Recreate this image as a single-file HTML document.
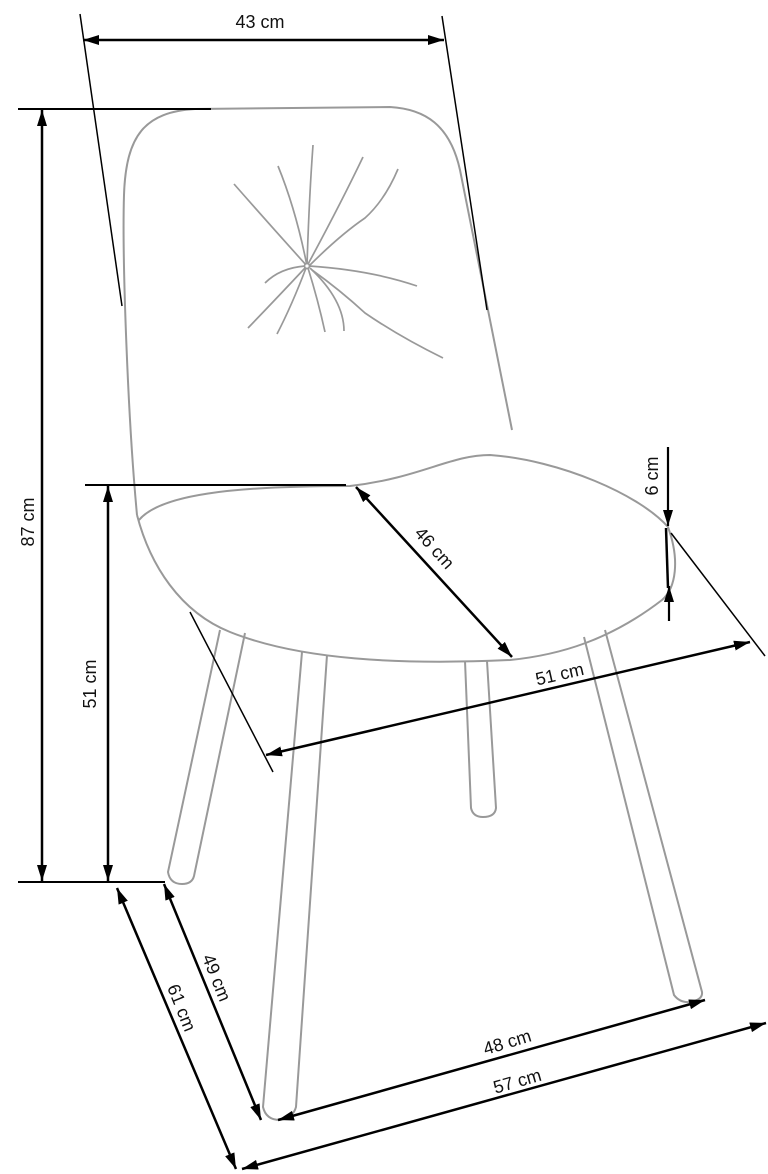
<!DOCTYPE html>
<html><head><meta charset="utf-8"><style>
html,body{margin:0;padding:0;background:#fff;}
svg{display:block;}
text{font-family:"Liberation Sans",sans-serif;font-size:18px;fill:#111;}
</style></head><body>
<svg width="768" height="1174" viewBox="0 0 768 1174" xmlns="http://www.w3.org/2000/svg">
<defs>
<marker id="a" viewBox="0 0 16 10" refX="16" refY="5" markerWidth="16" markerHeight="10" markerUnits="userSpaceOnUse" orient="auto-start-reverse">
<path d="M0,0 L16,5 L0,10 Z" fill="#000"/></marker>
</defs>
<g fill="none" stroke="#999" stroke-width="2">
<path d="M137,515 C128,420 122,260 124,195 C126,135 145,112 195,109 L390,107 C425,109 450,125 460,170 L512,430"/>
<path d="M139,520 C160,495 230,486 350,486 C420,478 450,455 490,455 C560,460 640,495 668,527 C680,560 676,588 662,600 C610,640 560,655 510,660 C400,665 300,660 230,632 C180,612 150,565 137,515"/>
<g stroke-width="1.7">
<path d="M307,266 Q309,200 313,145"/>
<path d="M307,266 Q296,210 278,166"/>
<path d="M307,266 Q270,225 234,184"/>
<path d="M307,266 Q340,205 363,157"/>
<path d="M309,266 Q340,235 365,218 Q385,200 398,169"/>
<path d="M309,266 Q370,270 417,286"/>
<path d="M305,266 Q280,268 265,283"/>
<path d="M305,268 Q275,300 248,328"/>
<path d="M306,268 Q292,305 277,334"/>
<path d="M308,268 Q318,300 325,332"/>
<path d="M310,268 Q344,300 344,331"/>
<path d="M312,270 Q340,290 365,313 Q400,337 443,358"/>
<circle cx="307" cy="266" r="2.5" fill="#fff"/>
</g>
<path d="M220,630 L168,872 Q170,884 182,884 Q192,884 194,876 L245,633"/>
<path d="M302,652 L263,1107 Q266,1120 280,1120 Q293,1118 296,1107 L327,655"/>
<path d="M465,661 L471,808 Q473,817 483,817 Q495,817 496,808 L487,661"/>
<path d="M584,637 L674,995 Q680,1003 690,1002 Q703,1000 702,992 L605,630"/>
</g>
<g stroke="#000" fill="none">
<line x1="80" y1="14" x2="122" y2="306" stroke-width="1.5"/>
<line x1="442" y1="16" x2="487" y2="310" stroke-width="1.5"/>
<line x1="83" y1="40" x2="444" y2="40" stroke-width="2.5" marker-start="url(#a)" marker-end="url(#a)"/>
<line x1="18" y1="109" x2="211" y2="109" stroke-width="2"/>
<line x1="18" y1="882" x2="165" y2="882" stroke-width="2"/>
<line x1="42" y1="110" x2="42" y2="881" stroke-width="2.5" marker-start="url(#a)" marker-end="url(#a)"/>
<line x1="85" y1="485" x2="346" y2="485" stroke-width="2"/>
<line x1="108" y1="486" x2="108" y2="881" stroke-width="2.5" marker-start="url(#a)" marker-end="url(#a)"/>
<line x1="356" y1="487" x2="512" y2="657" stroke-width="2.5" marker-start="url(#a)" marker-end="url(#a)"/>
<line x1="668" y1="447" x2="668" y2="526" stroke-width="2.2" marker-end="url(#a)"/>
<line x1="666" y1="528" x2="668" y2="588" stroke-width="2.5"/>
<line x1="669" y1="621" x2="669" y2="586" stroke-width="2.2" marker-end="url(#a)"/>
<line x1="190" y1="612" x2="273" y2="772" stroke-width="1.5"/>
<line x1="671" y1="533" x2="765" y2="656" stroke-width="1.5"/>
<line x1="266" y1="755" x2="750" y2="642" stroke-width="2.5" marker-start="url(#a)" marker-end="url(#a)"/>
<line x1="164" y1="884" x2="261" y2="1120" stroke-width="2.5" marker-start="url(#a)" marker-end="url(#a)"/>
<line x1="117" y1="888" x2="236" y2="1169" stroke-width="2.5" marker-start="url(#a)" marker-end="url(#a)"/>
<line x1="278" y1="1120" x2="705" y2="1000" stroke-width="2.5" marker-start="url(#a)" marker-end="url(#a)"/>
<line x1="242" y1="1169" x2="766" y2="1023" stroke-width="2.5" marker-start="url(#a)" marker-end="url(#a)"/>
</g>
<text x="260" y="28" text-anchor="middle">43 cm</text>
<text transform="translate(34,522) rotate(-90)" text-anchor="middle">87 cm</text>
<text transform="translate(96,684) rotate(-90)" text-anchor="middle">51 cm</text>
<text transform="translate(430,552) rotate(48)" text-anchor="middle">46 cm</text>
<text transform="translate(658,476) rotate(-90)" text-anchor="middle">6 cm</text>
<text transform="translate(561,680) rotate(-13)" text-anchor="middle">51 cm</text>
<text transform="translate(211,980) rotate(68)" text-anchor="middle">49 cm</text>
<text transform="translate(176,1010) rotate(68)" text-anchor="middle">61 cm</text>
<text transform="translate(509,1048) rotate(-17)" text-anchor="middle">48 cm</text>
<text transform="translate(519,1087) rotate(-16)" text-anchor="middle">57 cm</text>
</svg>
</body></html>
